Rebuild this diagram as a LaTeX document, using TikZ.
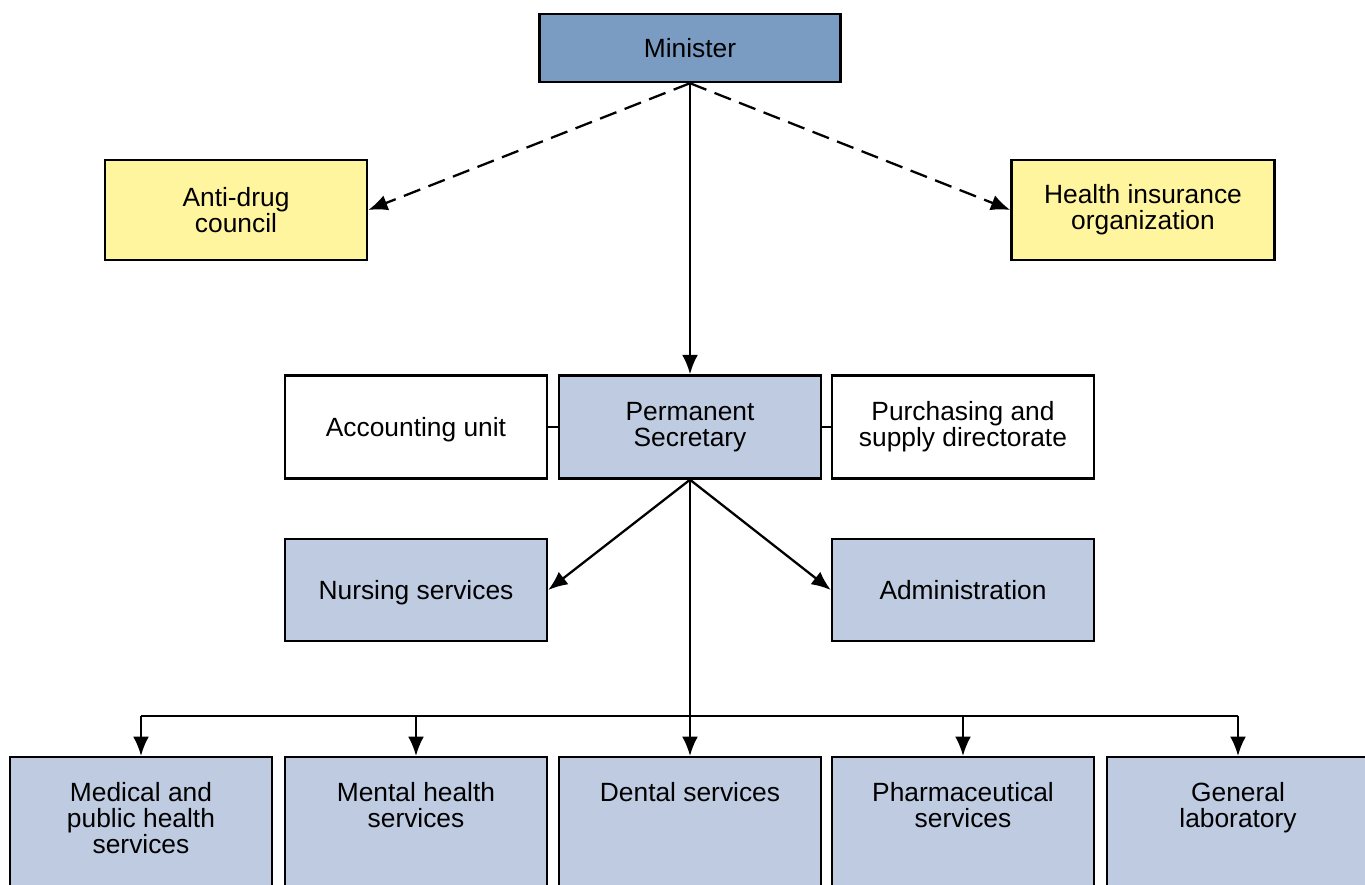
\documentclass[tikz,border=0pt]{standalone}
\usepackage{fontspec}
\setmainfont{Liberation Sans}
\usepackage{xcolor}
\usepackage{tikz}
\usetikzlibrary{arrows.meta}
\tikzset{>={Latex[length=11pt,width=9pt]}}

\definecolor{ministerblue}{RGB}{122,156,194}
\definecolor{paleblue}{RGB}{190,203,225}
\definecolor{paleyellow}{RGB}{255,245,158}

\newcommand{\depttext}[1]{\parbox[t]{5cm}{\centering #1}}

\begin{document}
\begin{tikzpicture}[
    box/.style={draw=black, line width=1.4pt, inner sep=0pt, align=center,
        font=\fontsize{15}{15}\selectfont, minimum width=5.24cm, minimum height=2.04cm},
    deptbox/.style={box, fill=paleblue, anchor=north, minimum height=0pt,
        inner ysep=0.1cm, text height=0.78cm, text depth=2.8cm},
    link/.style={line width=1.3pt},
]

    \useasboundingbox (0, 0) rectangle (27.3, -17.7);
    \clip (0, 0) rectangle (27.3, -17.7);

    % top
    \node[box, fill=ministerblue, minimum width=6.02cm, minimum height=1.36cm] (minister) at (13.8, -0.96) {Minister};
    \node[box, fill=paleyellow, minimum height=2cm] (antidrug) at (4.72, -4.2) {Anti-drug\\council};
    \node[box, fill=paleyellow, minimum height=2cm, minimum width=5.26cm] (insurance) at (22.86, -4.2) {Health insurance\\organization};

    % middle row
    \node[box, fill=paleblue, minimum height=2.06cm] (permsec) at (13.8, -8.54) {Permanent\\Secretary};
    \node[box, fill=white, minimum height=2.06cm, text depth=0pt] (accounting) at (8.32, -8.54) {Accounting unit};
    \node[box, fill=white, minimum height=2.06cm] (purchasing) at (19.26, -8.54) {Purchasing and\\supply directorate};
    \node[box, fill=paleblue, text depth=0pt] (nursing) at (8.32, -11.8) {Nursing services};
    \node[box, fill=paleblue] (admin) at (19.26, -11.8) {Administration};

    % departments
    \node[deptbox] (medical) at (2.82, -15.12) {\depttext{Medical and\\public health\\services}};
    \node[deptbox] (mental) at (8.32, -15.12) {\depttext{Mental health\\services}};
    \node[deptbox] (dental) at (13.8, -15.12) {\depttext{Dental services}};
    \node[deptbox] (pharma) at (19.26, -15.12) {\depttext{Pharmaceutical\\services}};
    \node[deptbox] (lab) at (24.76, -15.12) {\depttext{General\\laboratory}};

    % connectors
    \draw[link, dash pattern=on 10pt off 5pt, ->] (minister.south) -- (antidrug.east);
    \draw[link, dash pattern=on 10pt off 5pt, ->] (minister.south) -- (insurance.west);
    \draw[link, ->] (minister.south) -- (permsec.north);
    \draw[link] (accounting) -- (permsec);
    \draw[link] (permsec) -- (purchasing);
    \draw[link, ->] (permsec.south) -- (nursing.east);
    \draw[link, ->] (permsec.south) -- (admin.west);
    \draw[link, ->] (permsec.south) -- (dental.north);

    \coordinate (bus) at (13.8, -14.32);
    \draw[link] (bus -| medical.north) -- (bus -| lab.north);
    \foreach \d in {medical, mental, pharma, lab}{
            \draw[link, ->] (bus -| \d.north) -- (\d.north);
        }

\end{tikzpicture}
\end{document}
